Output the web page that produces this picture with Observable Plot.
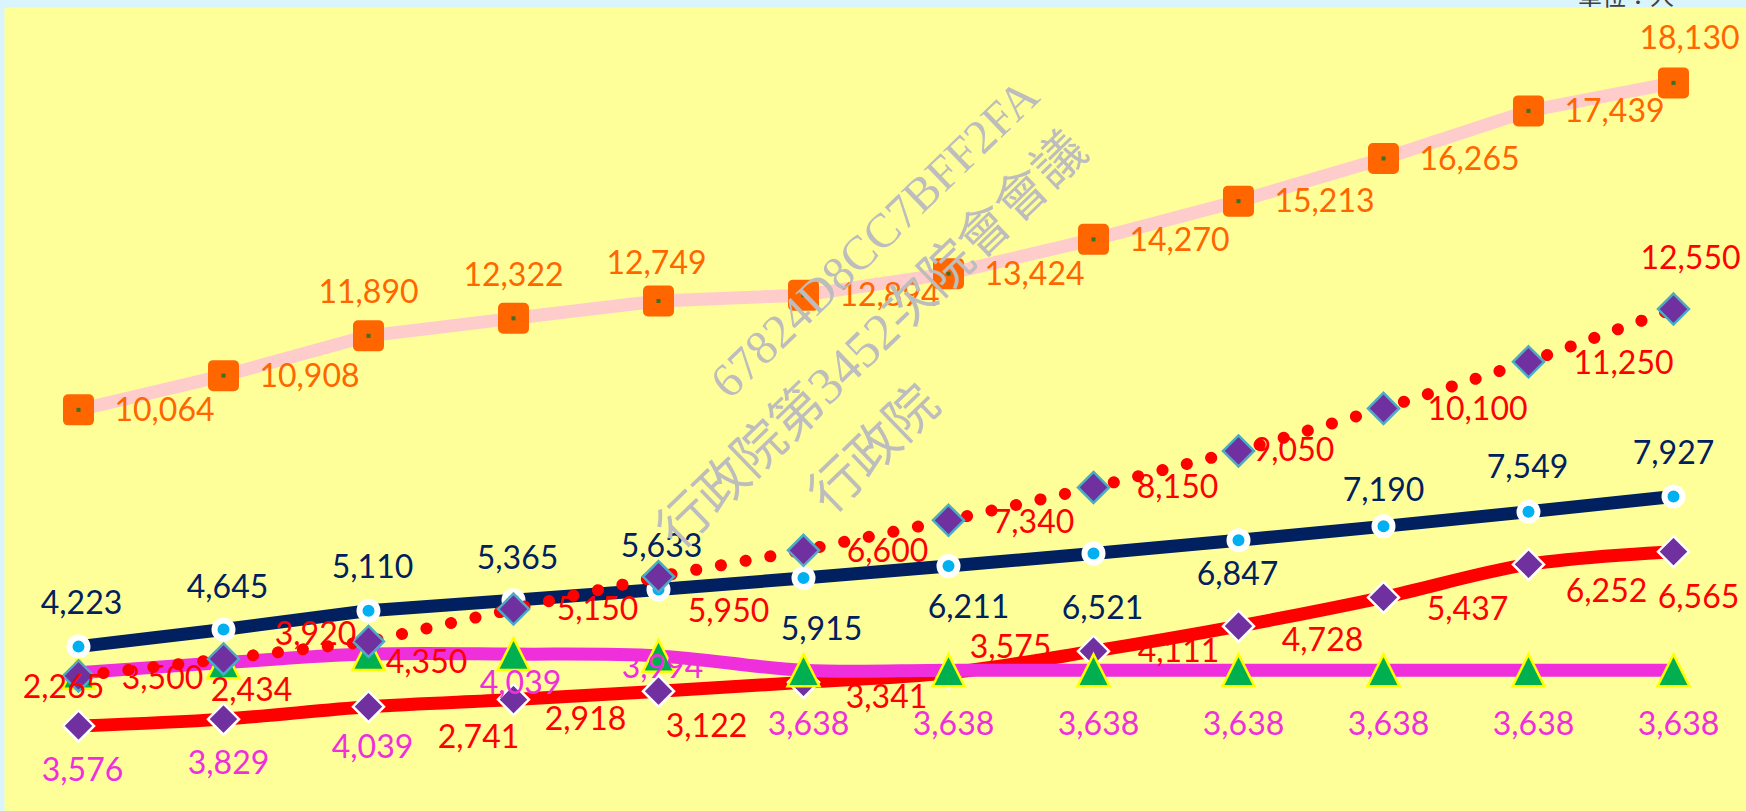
<!DOCTYPE html>
<html><head><meta charset="utf-8">
<script src="https://cdn.jsdelivr.net/npm/d3@7"></script>
<script src="https://cdn.jsdelivr.net/npm/@observablehq/plot@0.6"></script>
<style>
html,body{margin:0;padding:0;background:#D9F4FA;}
#wrap{position:relative;width:1746px;height:811px;overflow:hidden;background:#D9F4FA;}
#unit{position:absolute;left:1578px;top:-17px;font-size:24px;font-family:"Noto Sans CJK TC";color:#404040;line-height:1;white-space:nowrap;}
#chart{position:absolute;left:0;top:0;}
</style></head><body>
<div id="wrap"><div id="chart"></div><div id="unit">單位：人</div></div>
<script>
// ---- data ----
const categories = ["1","2","3","4","5","6","7","8","9","10","11","12"];
const orangeValues  = [10064,10908,11890,12322,12749,12894,13424,14270,15213,16265,17439,18130];
const navyValues    = [4223,4645,5110,5365,5633,5915,6211,6521,6847,7190,7549,7927];
const dottedValues  = [3500,3920,4350,5150,5950,6600,7340,8150,9050,10100,11250,12550];
const redValues     = [2265,2434,2741,2918,3122,3341,3575,4111,4728,5437,6252,6565];
const magentaValues = [3576,3829,4039,4039,3994,3638,3638,3638,3638,3638,3638,3638];
const watermarkLines = ["67824D8CC7BFF2FA", "行政院第3452次院會會議", "行政院"];

// ---- label placement (pixel offsets from each point) ----
const R = [86,1], A = [0,-43];
const orangeLabelOff = [R,R,A,A,[-2,-37],R,R,R,R,R,R,[16,-44]];
const navyLabelOff = [[3,-43],[4,-42],[4,-43],[4,-42],[3,-43],[18,52],[20,42],[9,55],[-1,34],[0,-36],[-1,-44],[0,-43]];
const dottedLabelOff = [[84,3],[92,-24],[58,21],[84,1],[70,35],[84,1],[85,2],[84,0],[55,0],[94,1],[95,2],[17,-50]];
const redLabelOff = [[-15,-38],[28,-28],[110,31],[72,20],[48,36],[83,15],[62,-25],[85,1],[84,15],[84,12],[78,27],[25,46]];
const magentaLabelOff = [[4,98],[5,101],[4,94],[7,30],[4,12],[5,54],[5,54],[5,54],[5,54],[5,54],[5,54],[5,54]];

const rows = vals => vals.map((v,i)=>({x:categories[i], y:v}));
const O = rows(orangeValues), N = rows(navyValues), D = rows(dottedValues), Rr = rows(redValues), M = rows(magentaValues);
const fmt = d3.format(",");

// custom symbols (size = pi r^2)
const symSquare = {draw(c,s){const h=Math.sqrt(s)/2;c.moveTo(-h,-h);c.lineTo(h,-h);c.lineTo(h,h);c.lineTo(-h,h);c.closePath();}};
const symDiamond = {draw(c,s){const h=Math.sqrt(s)/2;c.moveTo(0,-h);c.lineTo(h,0);c.lineTo(0,h);c.lineTo(-h,0);c.closePath();}};
const symTriangle = {draw(c,s){const h=Math.sqrt(s)/2;c.moveTo(0,-h);c.lineTo(h,h);c.lineTo(-h,h);c.closePath();}};

const FONT = "Lato";
const FS = 32;
const labelMarks = (data, offs, fill) => data.map((d,k)=>Plot.text([d], {
  x:"x", y:"y", text: d=>fmt(d.y), dx: offs[k][0], dy: offs[k][1],
  fill, fontSize: FS, fontFamily: FONT
}));

const C = {orange:"#FF6600", pink:"#FFCCCC", navy:"#002060", cyan:"#00B0F0", red:"#FF0000",
  purple:"#7030A0", teal:"#4BACC6", magenta:"#F02FDC", green:"#00B050", yellow:"#FFFF00"};

const chart = Plot.plot({
  width: 1746, height: 811,
  marginLeft: 4, marginRight: 0, marginTop: 7, marginBottom: 0,
  style: {background: "#D9F4FA", overflow: "hidden"},
  x: {type: "point", domain: categories, padding: 0.5, axis: null},
  y: {domain: [0, 20000], range: [817.3, 6.6], axis: null},
  marks: [
    Plot.frame({fill: "#FFFF99", stroke: "none"}),
    // orange series
    Plot.line(O, {x:"x", y:"y", stroke: C.pink, strokeWidth: 13}),
    Plot.dot(O, {x:"x", y:"y", symbol: symSquare, r: 11.85, fill: C.orange, stroke: C.orange, strokeWidth: 10, strokeLinejoin: "round"}),
    Plot.dot(O, {x:"x", y:"y", symbol: symSquare, r: 2.3, fill: "#3F6F27", stroke: "none"}),
    // red solid series
    Plot.line(Rr, {x:"x", y:"y", stroke: C.red, strokeWidth: 13, curve: "catmull-rom"}),
    Plot.dot(Rr, {x:"x", y:"y", symbol: symDiamond, r: 17.5, fill: C.purple, stroke: "white", strokeWidth: 2.5}),
    // magenta series
    Plot.line(M, {x:"x", y:"y", stroke: C.magenta, strokeWidth: 13, curve: "catmull-rom"}),
    Plot.dot(M, {x:"x", y:"y", symbol: symTriangle, r: 18, fill: C.green, stroke: C.yellow, strokeWidth: 2.5}),
    // navy series
    Plot.line(N, {x:"x", y:"y", stroke: C.navy, strokeWidth: 13}),
    Plot.dot(N, {x:"x", y:"y", r: 9, fill: C.cyan, stroke: "white", strokeWidth: 6}),
    // red dotted series
    Plot.line(D, {x:"x", y:"y", stroke: C.red, strokeWidth: 12, strokeDasharray: "0.1 25", strokeLinecap: "round"}),
    Plot.dot(D, {x:"x", y:"y", symbol: symDiamond, r: 17.5, fill: C.purple, stroke: C.teal, strokeWidth: 2.5}),
    // labels
    ...labelMarks(O, orangeLabelOff, C.orange),
    ...labelMarks(Rr, redLabelOff, C.red),
    ...labelMarks(M, magentaLabelOff, C.magenta),
    ...labelMarks(N, navyLabelOff, C.navy),
    ...labelMarks(D, dottedLabelOff, C.red)
  ]
});
document.getElementById("chart").appendChild(chart);

// watermark overlay
const wm = d3.select(chart).append("g").attr("fill", "#BDBDBD")
  .attr("font-family", '"Liberation Serif", "Noto Sans CJK TC", serif')
  .attr("text-anchor", "middle").attr("dominant-baseline", "middle");
const wmPlace = [[878, 242, 48], [876, 344, 52], [878, 453, 52]];
watermarkLines.forEach((t,i)=>{
  const [cx, cy, fs] = wmPlace[i];
  wm.append("text").attr("transform", `translate(${cx},${cy}) rotate(-44)`).attr("font-size", fs).text(t);
});
</script>
</body></html>
